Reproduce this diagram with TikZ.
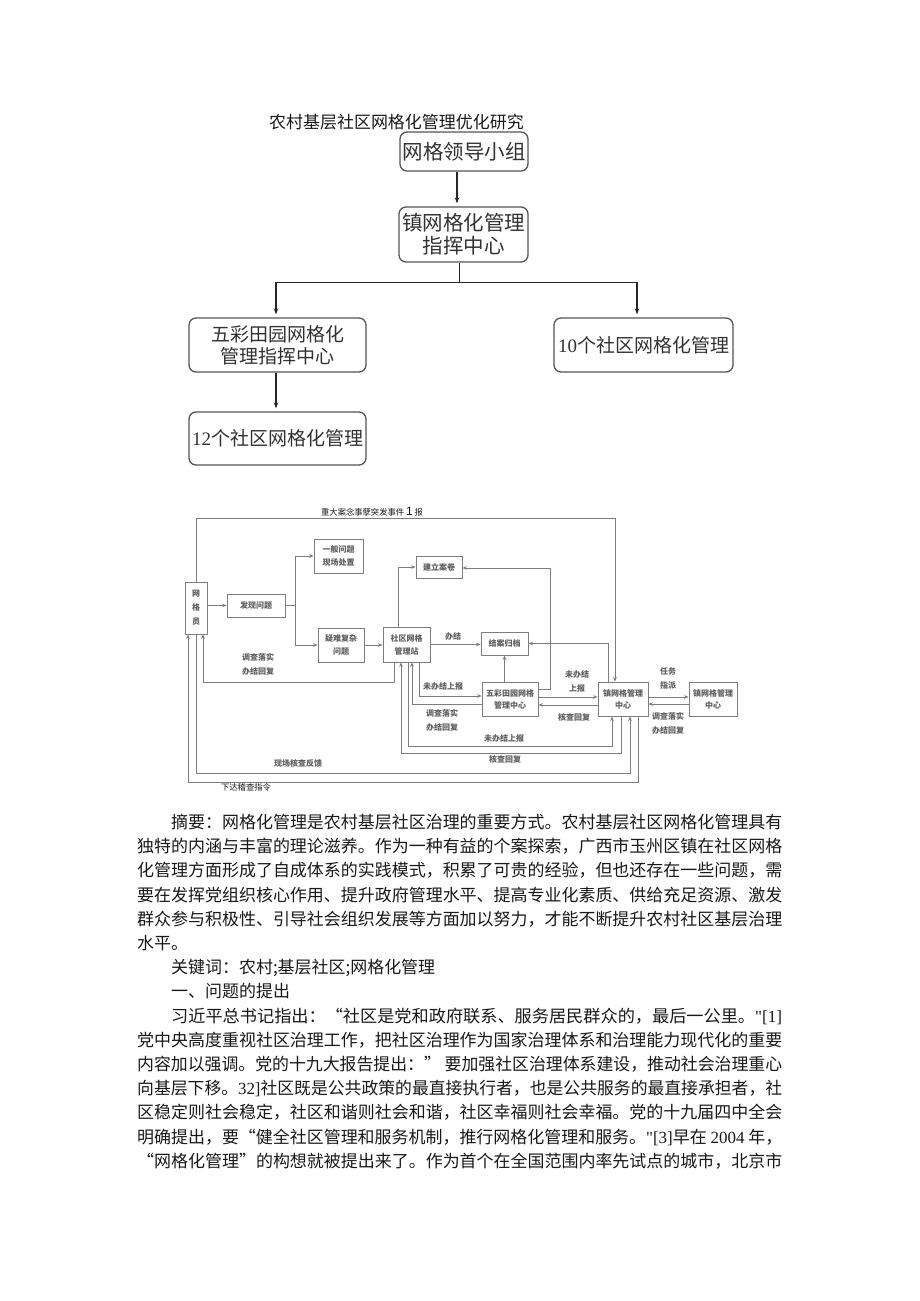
\documentclass[tikz,border=0pt]{standalone}
\usepackage{graphicx}
\usepackage{fontspec}
\setmainfont{Liberation Serif}
\newfontfamily\cjk{Noto Sans CJK SC}
\newfontfamily\lat{Liberation Serif}
\newfontfamily\latsans{Liberation Sans}
\usetikzlibrary{arrows.meta, positioning, calc}
\definecolor{orgline}{RGB}{85, 85, 85}
\definecolor{orgtext}{RGB}{50, 50, 50}
\definecolor{flowline}{RGB}{125, 125, 125}
\definecolor{flowtext}{RGB}{95, 95, 95}
\definecolor{bodyink}{RGB}{25, 25, 25}
\newcommand{\fullline}[1]{\resizebox{645pt}{\height}{#1}}
\newcommand{\indentline}[1]{\resizebox{611pt}{\height}{#1}}

\begin{document}
\begin{tikzpicture}[
    x=1pt, y=-1pt,
    >=Stealth,
    orgbox/.style={draw=orgline, line width=1.3pt, rounded corners=7pt, inner sep=0pt, align=center, text=orgtext, font=\cjk\fontsize{20.5}{23}\selectfont},
    orgarrow/.style={draw=black!85, line width=1.1pt, shorten >=3pt, -{Stealth[length=6pt,width=4.5pt]}},
    orgjoin/.style={draw=black!85, line width=1.1pt},
    flowbox/.style={draw=flowline, line width=0.9pt, inner sep=0pt, align=center, text=flowtext, font=\cjk\bfseries\fontsize{8}{13}\selectfont},
    flowlabel/.style={inner sep=0pt, align=center, text=flowtext, font=\cjk\bfseries\fontsize{8}{14}\selectfont},
    eventlabel/.style={inner sep=0pt, text=black!90, font=\cjk\fontsize{8.3}{10}\selectfont},
    flow/.style={draw=flowline, line width=0.9pt, -{Stealth[length=4.5pt,width=3.6pt]}},
    bodytext/.style={inner sep=0pt, anchor=base west, text=bodyink, font=\cjk\fontsize{16.97}{24}\selectfont}
  ]

  \useasboundingbox (0,0) rectangle (920,1301);
  \fill[white] (0,0) rectangle (920,1301);

  % Title
  \node[bodytext] (title) at (269,128.5) {农村基层社区网格化管理优化研究};

  % Organisation chart
  \node[orgbox, minimum width=128pt, minimum height=39pt] (lead) at (464,151.5) {网格领导小组};
  \node[orgbox, minimum width=129pt, minimum height=55pt] (town) at (463.5,234.5) {镇网格化管理\\指挥中心};
  \node[orgbox, font=\cjk\fontsize{19}{22}\selectfont, minimum width=177pt, minimum height=54pt] (wucai) at (277.5,345) {五彩田园网格化\\管理指挥中心};
  \node[orgbox, font=\cjk\fontsize{19}{22}\selectfont, minimum width=179pt, minimum height=54pt] (ten) at (643.5,345) {{\lat 10}个社区网格化管理};
  \node[orgbox, font=\cjk\fontsize{19}{22}\selectfont, minimum width=177pt, minimum height=53pt] (twelve) at (277.5,438.5) {{\lat 12}个社区网格化管理};

  \draw[orgarrow] ([xshift=-7pt]lead.south) -- ([xshift=-7pt]lead.south |- town.north);
  \draw[orgjoin] ([xshift=-4pt]town.south) -- ++(0,20) coordinate (split);
  \draw[orgarrow] (split) -| ([xshift=-1.5pt]wucai.north);
  \draw[orgarrow] (split) -| ([xshift=-6.5pt]ten.north);
  \draw[orgarrow] ([xshift=-1.5pt]wucai.south) -- ([xshift=-1.5pt]twelve.north);

  % Workflow boxes
  \node[flowbox, font=\cjk\bfseries\fontsize{8}{14}\selectfont, minimum width=22pt, minimum height=52pt] (wgy) at (196,608) {网\\格\\员};
  \node[flowbox, minimum width=58pt, minimum height=23pt] (fxwt) at (256,605.5) {发现问题};
  \node[flowbox, minimum width=49pt, minimum height=34pt] (ybwt) at (338.5,556) {一般问题\\现场处置};
  \node[flowbox, minimum width=46pt, minimum height=34pt] (ynwt) at (341,645) {疑难复杂\\问题};
  \node[flowbox, minimum width=47pt, minimum height=35pt] (sqz) at (406.5,644.5) {社区网格\\管理站};
  \node[flowbox, minimum width=46pt, minimum height=22pt] (jlaj) at (439,567) {建立案卷};
  \node[flowbox, minimum width=47pt, minimum height=23pt] (jagd) at (504.5,643.5) {结案归档};
  \node[flowbox, font=\cjk\bfseries\fontsize{8}{12}\selectfont, minimum width=56pt, minimum height=34pt] (wczx) at (510,699) {五彩田园网格\\管理中心};
  \node[flowbox, font=\cjk\bfseries\fontsize{8}{12}\selectfont, minimum width=50pt, minimum height=34pt] (zzx) at (623,699) {镇网格管理\\中心};
  \node[flowbox, font=\cjk\bfseries\fontsize{8}{12}\selectfont, minimum width=48pt, minimum height=34pt] (zzx2) at (713,699) {镇网格管理\\中心};

  % Workflow connectors
  \draw[flow] (wgy.north) -- ++(0,-63) -| ([xshift=-8pt]zzx.north);
  \draw[flow] (wgy.east |- fxwt.west) -- (fxwt.west);
  \draw[flow] (fxwt.east) -- ++(10,0) |- (ybwt.west);
  \draw[flow] ([xshift=10pt]fxwt.east) |- (ynwt.west);
  \draw[flow] (ynwt.east) -- (ynwt.east -| sqz.west);
  \draw[flow] ([xshift=-8.5pt]sqz.north) |- (jlaj.west);
  \draw[flow] (sqz.east) -- (sqz.east -| jagd.west);
  \draw[flow] ([xshift=-12.5pt]sqz.south) -- ++(0,20) -| ([xshift=7pt]wgy.south);
  \draw[flow] ([xshift=12.5pt]sqz.south) |- ([yshift=3pt]wczx.west);
  \draw[flow] ([yshift=-5pt]wczx.west) -| ([xshift=5.5pt]sqz.south);
  \draw[flow] (jagd.south |- wczx.north) -- (jagd.south);
  \draw[flow] ([yshift=10pt]wczx.east) -- ++(12,0) |- ([yshift=-1pt]jlaj.east);
  \draw[flow] ([yshift=2pt]wczx.east) -- ([yshift=2pt]zzx.west);
  \draw[flow] ([yshift=-6pt]zzx.west) -- ([yshift=-6pt]wczx.east);
  \draw[flow] ([xshift=-15pt]zzx.north) |- (jagd.east);
  \draw[flow] ([xshift=1.5pt]sqz.south) -- ++(0,84) -| ([xshift=-11pt]zzx.south);
  \draw[flow] ([xshift=-2pt]zzx.south) -- ++(0,37) -| ([xshift=-5.5pt]sqz.south);
  \draw[flow] (wgy.south) -- ++(0,139) -| ([xshift=7pt]zzx.south);
  \draw[flow] ([xshift=15pt]zzx.south) -- ++(0,66) -| ([xshift=-8pt]wgy.south);
  \draw[flow] ([yshift=2pt]zzx.east) -- ([yshift=2pt]zzx2.west);
  \draw[flow] ([yshift=-5pt]zzx2.west) -- ([yshift=-5pt]zzx.east);

  % Connector labels
  \node[eventlabel] (lbl-major) at (372,512) {重大案念事孽突发事件 {\latsans\fontsize{12}{12}\selectfont 1} 报};
  \node[flowlabel] (lbl-done) at (453,636) {办结};
  \node[flowlabel] (lbl-reply1) at (258,664.5) {调查落实\\办结回复};
  \node[flowlabel] (lbl-up1) at (443,686) {未办结上报};
  \node[flowlabel] (lbl-reply2) at (442,720) {调查落实\\办结回复};
  \node[flowlabel] (lbl-up2) at (577,681) {未办结\\上报};
  \node[flowlabel] (lbl-check1) at (574,717) {核查回复};
  \node[flowlabel] (lbl-up3) at (504,738) {未办结上报};
  \node[flowlabel] (lbl-check2) at (505,759.5) {核查回复};
  \node[flowlabel] (lbl-site) at (298,763.5) {现场核查反馈};
  \node[eventlabel] (lbl-order) at (246,787.5) {下达稽查指令};
  \node[flowlabel] (lbl-task) at (668,678.5) {任务\\指派};
  \node[flowlabel] (lbl-reply3) at (668,723.5) {调查落实\\办结回复};

  % Body text
  \node[bodytext] (abs1) at (171,828.5) {\indentline{摘要：网格化管理是农村基层社区治理的重要方式。农村基层社区网格化管理具有}};
  \node[bodytext] (abs2) at (137,852.7) {\fullline{独特的内涵与丰富的理论滋养。作为一种有益的个案探索，广西市玉州区镇在社区网格}};
  \node[bodytext] (abs3) at (137,876.9) {\fullline{化管理方面形成了自成体系的实践模式，积累了可贵的经验，但也还存在一些问题，需}};
  \node[bodytext] (abs4) at (137,901.1) {\fullline{要在发挥党组织核心作用、提升政府管理水平、提高专业化素质、供给充足资源、激发}};
  \node[bodytext] (abs5) at (137,925.3) {\fullline{群众参与积极性、引导社会组织发展等方面加以努力，才能不断提升农村社区基层治理}};
  \node[bodytext] (abs6) at (137,949.5) {水平。};
  \node[bodytext] (keys) at (171,973.7) {关键词：农村;基层社区;网格化管理};
  \node[bodytext] (sec1) at (171,997.9) {一、问题的提出};
  \node[bodytext] (par1) at (171,1022.1) {\indentline{习近平总书记指出：“社区是党和政府联系、服务居民群众的，最后一公里。{\lat "[1]}}};
  \node[bodytext] (par2) at (137,1046.3) {\fullline{党中央高度重视社区治理工作，把社区治理作为国家治理体系和治理能力现代化的重要}};
  \node[bodytext] (par3) at (137,1070.5) {\fullline{内容加以强调。党的十九大报告提出：” 要加强社区治理体系建设，推动社会治理重心}};
  \node[bodytext] (par4) at (137,1094.7) {\fullline{向基层下移。{\lat 32]}社区既是公共政策的最直接执行者，也是公共服务的最直接承担者，社}};
  \node[bodytext] (par5) at (137,1118.9) {\fullline{区稳定则社会稳定，社区和谐则社会和谐，社区幸福则社会幸福。党的十九届四中全会}};
  \node[bodytext] (par6) at (137,1143.1) {\fullline{明确提出，要“健全社区管理和服务机制，推行网格化管理和服务。{\lat "[3]}早在 {\lat 2004} 年，}};
  \node[bodytext] (par7) at (137,1167.3) {\fullline{“网格化管理”的构想就被提出来了。作为首个在全国范围内率先试点的城市，北京市}};

\end{tikzpicture}
\end{document}
